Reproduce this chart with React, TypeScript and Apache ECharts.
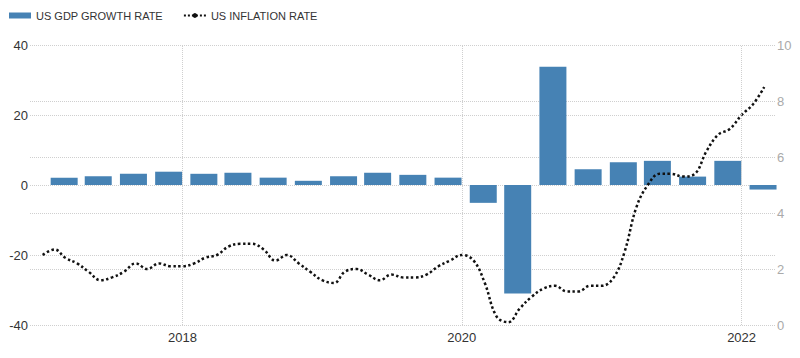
import React, { useEffect, useRef } from "react";
import * as echarts from "echarts";

// Quarterly GDP growth (annualized, %), Q1 2017 .. Q1 2022
const gdpQuarters = [
  "2017-02-26", "2017-05-26", "2017-08-26", "2017-11-26",
  "2018-02-26", "2018-05-26", "2018-08-26", "2018-11-26",
  "2019-02-26", "2019-05-26", "2019-08-26", "2019-11-26",
  "2020-02-26", "2020-05-26", "2020-08-26", "2020-11-26",
  "2021-02-26", "2021-05-26", "2021-08-26", "2021-11-26",
  "2022-02-26",
];
const gdpValues = [
  2.1, 2.5, 3.2, 3.8,
  3.2, 3.5, 2.1, 1.2,
  2.5, 3.5, 2.9, 2.1,
  -5.1, -31.0, 33.8, 4.5,
  6.5, 6.9, 2.4, 6.9,
  -1.3,
];

// Monthly CPI inflation (YoY, %), Jan 2017 .. Mar 2022
const inflationStart = { year: 2017, month: 0 };
const inflationValues = [
  2.5, 2.7, 2.4, 2.2, 1.9, 1.6, 1.7, 1.9, 2.2, 2.0, 2.2, 2.1,
  2.1, 2.2, 2.4, 2.5, 2.8, 2.9, 2.9, 2.7, 2.3, 2.5, 2.2, 1.9,
  1.6, 1.5, 1.9, 2.0, 1.8, 1.6, 1.8, 1.7, 1.7, 1.8, 2.1, 2.3,
  2.5, 2.3, 1.5, 0.3, 0.1, 0.6, 1.0, 1.3, 1.4, 1.2, 1.2, 1.4,
  1.4, 1.7, 2.6, 4.2, 5.0, 5.4, 5.4, 5.3, 5.4, 6.2, 6.8, 7.0,
  7.5, 7.9, 8.5,
];

const xTickYears = [2018, 2020, 2022];
const leftTicks = { min: -40, max: 40, interval: 20 };
const rightTicks = { min: 0, max: 10, interval: 2 };

const seriesNames = ["US GDP GROWTH RATE", "US INFLATION RATE"];

const FONT = "'Liberation Sans', Arial, Helvetica, sans-serif";

function parseDate(s: string): number {
  const [y, m, d] = s.split("-").map(Number);
  return new Date(y, m - 1, d).getTime();
}

export default function App() {
  const ref = useRef<HTMLDivElement>(null);

  useEffect(() => {
    if (!ref.current) return;
    const chart = echarts.init(ref.current, undefined, { renderer: "svg" });

    const gdpData = gdpQuarters.map((d, i) => [parseDate(d), gdpValues[i]]);
    const inflData = inflationValues.map((v, i) => [
      new Date(inflationStart.year, inflationStart.month + i, 1).getTime(),
      v,
    ]);
    const tickValues = xTickYears.map((y) => new Date(y, 0, 1).getTime());

    const splitStyle = { color: "#cfcfcf", type: "dotted" as const, width: 1 };

    chart.setOption({
      animation: false,
      textStyle: { fontFamily: FONT },
      legend: {
        data: [
          { name: seriesNames[0], icon: "rect" },
          { name: seriesNames[1] },
        ],
        left: 4,
        top: 5,
        itemWidth: 22,
        itemHeight: 6,
        itemGap: 20,
        textStyle: { fontSize: 11, color: "#333", fontFamily: FONT },
      },
      grid: { left: 30, right: 25, top: 45, bottom: 33, containLabel: false },
      xAxis: {
        type: "time",
        // ECharts widens a bar base axis by half a bar on each side
        min: new Date(2017, 0, 3).getTime(),
        max: new Date(2022, 1, 22).getTime(),
        axisLine: { show: false },
        axisTick: { show: false },
        splitLine: { show: false },
        axisLabel: { show: false },
      },
      yAxis: [
        {
          type: "value",
          position: "left",
          min: leftTicks.min,
          max: leftTicks.max,
          interval: leftTicks.interval,
          axisLine: { show: false },
          axisTick: { show: false },
          splitLine: { show: true, lineStyle: splitStyle },
          axisLabel: { color: "#333", fontSize: 13, margin: 2, fontFamily: FONT },
        },
        {
          type: "value",
          position: "right",
          min: rightTicks.min,
          max: rightTicks.max,
          interval: rightTicks.interval,
          axisLine: { show: false },
          axisTick: { show: false },
          splitLine: { show: true, lineStyle: splitStyle },
          axisLabel: { color: "#aaa", fontSize: 13, margin: 2, fontFamily: FONT },
        },
      ],
      series: [
        {
          name: seriesNames[0],
          type: "bar",
          yAxisIndex: 0,
          data: gdpData,
          barWidth: 27,
          itemStyle: { color: "#4682B4" },
          markLine: {
            silent: true,
            symbol: ["none", "none"],
            animation: false,
            lineStyle: splitStyle,
            label: {
              show: true,
              position: "start",
              distance: 6,
              formatter: (p: any) => String(new Date(p.value).getFullYear()),
              color: "#333",
              fontSize: 13,
              fontFamily: FONT,
            },
            emphasis: { disabled: true },
            data: tickValues.map((t) => ({ xAxis: t })),
          },
        },
        {
          name: seriesNames[1],
          type: "line",
          yAxisIndex: 1,
          data: inflData,
          smooth: 0.4,
          symbol: "none",
          showSymbol: false,
          lineStyle: { color: "#111", width: 2.5, type: "dotted" },
          itemStyle: { color: "#111" },
        },
      ],
    });

    return () => chart.dispose();
  }, []);

  return (
    <div
      ref={ref}
      style={{ position: "absolute", left: 0, top: 0, width: 800, height: 358 }}
    />
  );
}
